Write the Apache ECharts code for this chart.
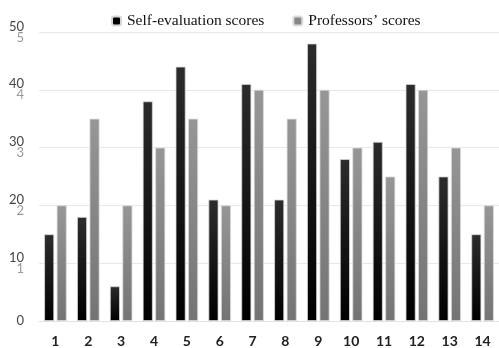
<!DOCTYPE html>
<html>
<head>
<meta charset="utf-8">
<script src="https://cdn.jsdelivr.net/npm/echarts@6/dist/echarts.min.js"></script>
<style>html,body{margin:0;padding:0;background:#fff;}#c{width:499px;height:348px;}</style>
</head>
<body>
<div id="c"></div>
<script>
var categories = ['1','2','3','4','5','6','7','8','9','10','11','12','13','14'];
var selfScores = [15, 18, 6, 38, 44, 21, 41, 21, 48, 28, 31, 41, 25, 15];
var profScores = [20, 35, 20, 30, 35, 20, 40, 35, 40, 30, 25, 40, 30, 20];
var yTicksMain = {0:'0', 10:'10', 20:'20', 30:'30', 40:'40', 50:'50'};
var yTicksSub = {10:'1', 20:'2', 30:'3', 40:'4', 50:'5'};

var chart = echarts.init(document.getElementById('c'));
chart.setOption({
  animation: false,
  legend: {
    top: 8,
    left: 106,
    itemWidth: 9,
    itemHeight: 9,
    itemGap: 28,
    textStyle: {fontFamily: 'Liberation Serif', fontSize: 15.5, color: '#111', padding: [0, 0, 0, 1]},
    data: [
      {name: 'Self-evaluation scores', itemStyle: {color: '#000'}},
      {name: 'Professors\u2019 scores', itemStyle: {color: '#888'}}
    ]
  },
  grid: {left: 39, top: 32, width: 463, height: 289, containLabel: false},
  xAxis: {
    type: 'category',
    data: categories,
    axisLine: {show: true, lineStyle: {color: '#e2e2e2'}},
    axisTick: {show: false},
    axisLabel: {margin: 13, fontFamily: 'Lato', fontWeight: 'bold', fontSize: 14, color: '#222'}
  },
  yAxis: {
    type: 'value',
    min: 0, max: 50, interval: 10,
    axisLine: {show: false},
    axisTick: {show: false},
    splitLine: {lineStyle: {color: '#e8e8e8'}},
    axisLabel: {
      margin: 15,
      align: 'right',
      formatter: function (v) {
        if (yTicksSub[v]) return '{a|' + yTicksMain[v] + '}\n{b|' + yTicksSub[v] + '}';
        return '{a|' + yTicksMain[v] + '}';
      },
      rich: {
        a: {fontFamily: 'Lato', fontSize: 13, color: '#444', lineHeight: 11, align: 'right'},
        b: {fontFamily: 'Lato', fontSize: 13, color: '#999', lineHeight: 11, align: 'right'}
      }
    }
  },
  series: [
    {
      name: 'Self-evaluation scores',
      type: 'bar',
      data: selfScores,
      barWidth: 10,
      barGap: '25%',
      itemStyle: {
        color: new echarts.graphic.LinearGradient(0, 0, 0, 1, [
          {offset: 0, color: '#2c2c2c'}, {offset: 1, color: '#000'}
        ]),
        borderColor: '#d8d8d8', borderWidth: 0.8
      }
    },
    {
      name: 'Professors\u2019 scores',
      type: 'bar',
      data: profScores,
      barWidth: 10,
      itemStyle: {
        color: new echarts.graphic.LinearGradient(0, 0, 0, 1, [
          {offset: 0, color: '#969696'}, {offset: 1, color: '#747474'}
        ]),
        borderColor: '#dcdcdc', borderWidth: 0.8
      }
    }
  ]
});
</script>
</body>
</html>
